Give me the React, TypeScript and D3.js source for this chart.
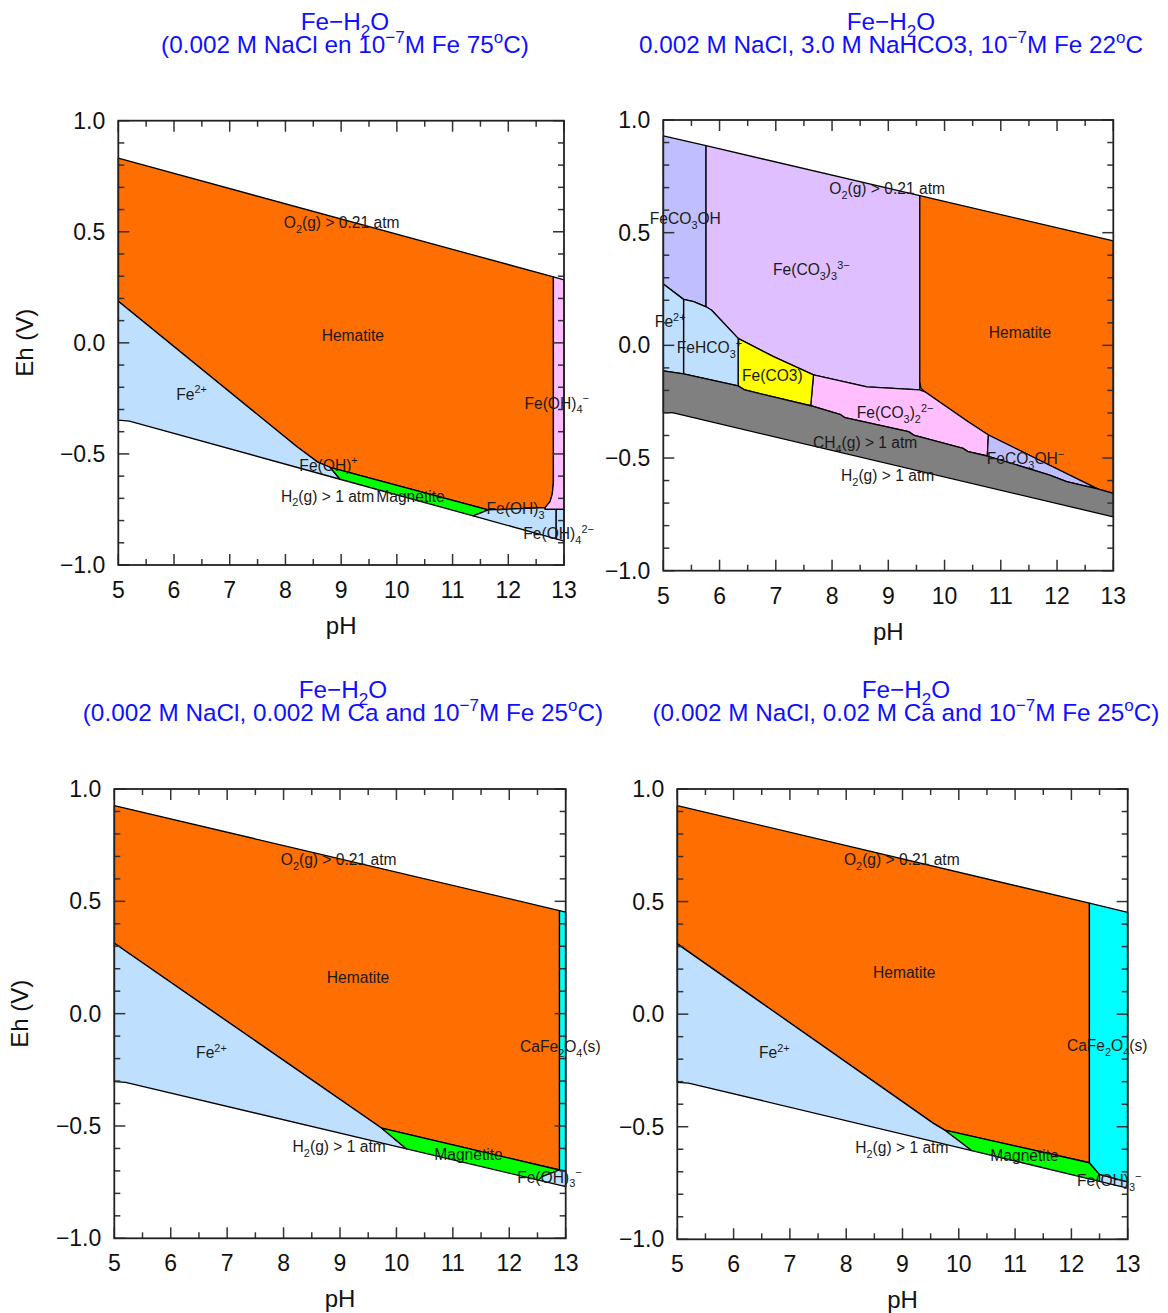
import * as d3 from "d3";

type Pt = [number, number];

// ---------- panel 1 : 0.002 M NaCl, 1e-7 M Fe, 75 C ----------
const p1Hematite: Pt[] = [[5, 0.831], [12.81, 0.297], [12.81, -0.63], [12.79, -0.68], [12.75, -0.715], [12.66, -0.742], [11.64, -0.752], [8.8, -0.56], [8.58, -0.537], [8.22, -0.47], [8.18, -0.462], [5, 0.187]];
const p1FeOH4: Pt[] = [[12.81, 0.297], [13, 0.284], [13, -0.75], [12.66, -0.75], [12.66, -0.742], [12.75, -0.715], [12.79, -0.68], [12.81, -0.63]];
const p1Fe2: Pt[] = [[5, 0.187], [8.18, -0.462], [8.22, -0.47], [8.58, -0.537], [8.8, -0.56], [8.98, -0.614], [5.2, -0.352], [5, -0.348]];
const p1Magnetite: Pt[] = [[8.8, -0.56], [11.64, -0.752], [11.37, -0.779], [8.98, -0.614]];
const p1FeOH3: Pt[] = [[11.64, -0.752], [12.66, -0.742], [12.66, -0.75], [12.86, -0.75], [12.86, -0.882], [11.37, -0.779]];
const p1FeOH4b: Pt[] = [[12.86, -0.75], [13, -0.75], [13, -0.892], [12.86, -0.882]];
const p1Labels: [string, number, number, string][] = [
  ["O_{2}(g) > 0.21 atm", 7.97, 0.54, "start"],
  ["Hematite", 9.21, 0.032, "middle"],
  ["Fe^{2+}", 6.04, -0.233, "start"],
  ["Fe(OH)_{4}^{−}", 12.29, -0.274, "start"],
  ["Fe(OH)^{+}", 8.25, -0.553, "start"],
  ["H_{2}(g) > 1 atm", 7.92, -0.692, "start"],
  ["Magnetite", 9.63, -0.692, "start"],
  ["Fe(OH)_{3}", 11.61, -0.75, "start"],
  ["Fe(OH)_{4}^{2−}", 12.27, -0.862, "start"],
];

// ---------- panel 2 : 3.0 M NaHCO3, 22 C ----------
const p2FeCO3OH: Pt[] = [[5, 0.93], [5.76, 0.886], [5.76, 0.171], [5.54, 0.194], [5.36, 0.204], [5, 0.272]];
const p2FeCO33: Pt[] = [[5.76, 0.886], [9.56, 0.664], [9.56, -0.198], [8.62, -0.184], [7.67, -0.131], [6.96, -0.05], [6.33, 0.031], [5.86, 0.156], [5.76, 0.171]];
const p2Hematite: Pt[] = [[9.56, 0.664], [13, 0.464], [13, -0.657], [12.72, -0.637], [10.78, -0.398], [10.42, -0.339], [9.65, -0.206], [9.58, -0.19], [9.56, -0.16]];
const p2FeCO32: Pt[] = [[7.67, -0.131], [8.62, -0.184], [9.56, -0.198], [9.65, -0.206], [10.42, -0.339], [10.78, -0.398], [10.76, -0.491], [10.42, -0.472], [10.33, -0.457], [9.45, -0.398], [9.36, -0.383], [8.23, -0.321], [8.14, -0.306], [7.62, -0.268]];
const p2FeCO3: Pt[] = [[6.33, 0.031], [6.96, -0.05], [7.67, -0.131], [7.62, -0.268], [6.45, -0.198], [6.33, -0.18]];
const p2FeHCO3: Pt[] = [[5.36, 0.204], [5.54, 0.194], [5.76, 0.171], [5.86, 0.156], [6.33, 0.031], [6.33, -0.18], [5.36, -0.127]];
const p2Fe2: Pt[] = [[5, 0.272], [5.36, 0.204], [5.36, -0.127], [5, -0.113]];
const p2FeCO3OHm: Pt[] = [[10.78, -0.398], [12.72, -0.637], [12.17, -0.605], [11.87, -0.576], [10.76, -0.491]];
const p2CH4: Pt[] = [[5, -0.113], [5.36, -0.127], [6.33, -0.18], [6.45, -0.198], [7.62, -0.268], [8.14, -0.306], [8.23, -0.321], [9.36, -0.383], [9.45, -0.398], [10.33, -0.457], [10.42, -0.472], [10.76, -0.491], [11.87, -0.576], [12.17, -0.605], [12.72, -0.637], [13, -0.657], [13, -0.761], [5.18, -0.3], [5, -0.297]];
const p2Labels: [string, number, number, string][] = [
  ["O_{2}(g) > 0.21 atm", 7.95, 0.694, "start"],
  ["FeCO_{3}OH", 4.76, 0.56, "start"],
  ["Fe(CO_{3})_{3}^{3−}", 6.95, 0.334, "start"],
  ["Fe^{2+}", 4.85, 0.103, "start"],
  ["FeHCO_{3}^{+}", 5.24, -0.012, "start"],
  ["Fe(CO3)", 6.4, -0.136, "start"],
  ["Hematite", 11.34, 0.055, "middle"],
  ["Fe(CO_{3})_{2}^{2−}", 8.44, -0.3, "start"],
  ["CH_{4}(g) > 1 atm", 7.66, -0.434, "start"],
  ["FeCO_{3}OH^{−}", 10.75, -0.505, "start"],
  ["H_{2}(g) > 1 atm", 8.16, -0.58, "start"],
];

// ---------- panel 3 : 0.002 M Ca, 25 C ----------
const p3Hematite: Pt[] = [[5, 0.926], [12.89, 0.459], [12.89, -0.696], [9.74, -0.51], [5, 0.313]];
const p3Fe2: Pt[] = [[5, 0.313], [9.74, -0.51], [10.18, -0.602], [5.2, -0.306], [5, -0.303]];
const p3Magnetite: Pt[] = [[9.74, -0.51], [12.89, -0.696], [12.58, -0.725], [12.52, -0.741], [10.18, -0.602]];
const p3FeOH3: Pt[] = [[12.58, -0.725], [12.89, -0.696], [13, -0.7], [13, -0.77], [12.52, -0.741]];
const p3CaFe2O4: Pt[] = [[12.89, 0.459], [13, 0.452], [13, -0.7], [12.89, -0.696]];
const p3Labels: [string, number, number, string][] = [
  ["O_{2}(g) > 0.21 atm", 7.95, 0.684, "start"],
  ["Hematite", 9.32, 0.159, "middle"],
  ["Fe^{2+}", 6.45, -0.175, "start"],
  ["CaFe_{2}O_{4}(s)", 12.19, -0.148, "start"],
  ["H_{2}(g) > 1 atm", 8.16, -0.594, "start"],
  ["Magnetite", 10.67, -0.629, "start"],
  ["Fe(OH)_{3}^{−}", 12.14, -0.73, "start"],
];

// ---------- panel 4 : 0.02 M Ca, 25 C ----------
const p4Hematite: Pt[] = [[5, 0.926], [12.32, 0.493], [12.32, -0.66], [9.75, -0.515], [9.55, -0.485], [5, 0.312]];
const p4Fe2: Pt[] = [[5, 0.312], [9.55, -0.485], [9.75, -0.515], [10.23, -0.606], [5.2, -0.306], [5, -0.303]];
const p4Magnetite: Pt[] = [[9.75, -0.515], [12.32, -0.66], [12.5, -0.712], [12.5, -0.743], [10.23, -0.606]];
const p4FeOH3: Pt[] = [[12.5, -0.712], [13, -0.745], [13, -0.773], [12.5, -0.743]];
const p4CaFe2O4: Pt[] = [[12.32, 0.493], [13, 0.452], [13, -0.745], [12.5, -0.712], [12.32, -0.66]];
const p4Labels: [string, number, number, string][] = [
  ["O_{2}(g) > 0.21 atm", 7.96, 0.685, "start"],
  ["Hematite", 9.03, 0.183, "middle"],
  ["Fe^{2+}", 6.45, -0.173, "start"],
  ["CaFe_{2}O_{4}(s)", 11.92, -0.141, "start"],
  ["H_{2}(g) > 1 atm", 8.16, -0.594, "start"],
  ["Magnetite", 10.56, -0.63, "start"],
  ["Fe(OH)_{3}^{−}", 12.1, -0.741, "start"],
];

const titles1 = ["Fe−H_{2}O", "(0.002 M NaCl en 10^{−7}M Fe 75^{o}C)"];
const titles2 = ["Fe−H_{2}O", "0.002 M NaCl, 3.0 M NaHCO3, 10^{−7}M Fe 22^{o}C"];
const titles3 = ["Fe−H_{2}O", "(0.002 M NaCl, 0.002 M Ca and 10^{−7}M Fe 25^{o}C)"];
const titles4 = ["Fe−H_{2}O", "(0.002 M NaCl, 0.02 M Ca and 10^{−7}M Fe 25^{o}C)"];

const phDomain: Pt = [5, 13];
const ehDomain: Pt = [-1, 1];

const C = {
  hem: "#ff6e00", blue: "#bfdfff", green: "#00ff00", pink: "#ffbfff",
  lav: "#bfbfff", purple: "#dfbfff", yellow: "#ffff00", gray: "#808080", cyan: "#00ffff",
};

const FONT = "'Liberation Sans', Arial, Helvetica, sans-serif";

// split "Fe_{2}O^{3-}" into plain / sub / sup pieces
function pieces(s: string) {
  const out: { t: string; k: string }[] = [];
  const re = /([_^])\{([^}]*)\}/g;
  let last = 0, m;
  while ((m = re.exec(s))) {
    if (m.index > last) out.push({ t: s.slice(last, m.index), k: "n" });
    out.push({ t: m[2], k: m[1] === "_" ? "sub" : "sup" });
    last = re.lastIndex;
  }
  if (last < s.length) out.push({ t: s.slice(last), k: "n" });
  return out;
}

function Rich({ s, x, y, size, anchor, fill }: { s: string; x: number; y: number; size: number; anchor: string; fill: string }) {
  const ps = pieces(s);
  let cur = 0;
  return (
    <text x={x} y={y} fontSize={size} textAnchor={anchor} fill={fill} fontFamily={FONT}>
      {ps.map((p, i) => {
        const target = p.k === "sub" ? size * 0.3 : p.k === "sup" ? -size * 0.4 : 0;
        const dy = target - cur;
        cur = target;
        return (
          <tspan key={i} dy={dy} fontSize={p.k === "n" ? size : size * 0.7}>{p.t}</tspan>
        );
      })}
    </text>
  );
}

type Region = { pts: Pt[]; fill: string };
type PanelProps = {
  box: { l: number; r: number; t: number; b: number };
  regions: Region[];
  labels: [string, number, number, string][];
  titles: string[];
  titleX: number;
  titleY: number;
  ehLabelX?: number;
};

function Panel({ box, regions, labels, titles, titleX, titleY, ehLabelX }: PanelProps) {
  const x = d3.scaleLinear().domain(phDomain).range([box.l, box.r]);
  const y = d3.scaleLinear().domain(ehDomain).range([box.b, box.t]);
  const line = d3.line<Pt>().x(d => x(d[0])).y(d => y(d[1]));
  const xMajor = x.ticks(8);
  const xMinor = x.ticks(16).filter(v => !Number.isInteger(v));
  const yMajor = y.ticks(4);
  const yMinor = y.ticks(20).filter(v => !yMajor.some(m => Math.abs(m - v) < 1e-9));
  const fmt = d3.format(".1f");
  const tickCol = "#333";
  const M = 11, m = 6;
  return (
    <g>
      {titles.map((t, i) => (
        <Rich key={i} s={t} x={titleX} y={titleY + i * 23} size={24.3} anchor="middle" fill="#1010ff" />
      ))}
      {regions.map((r, i) => (
        <path key={i} d={line(r.pts) + "Z"} fill={r.fill} stroke="#000" strokeWidth={1.3} strokeLinejoin="round" />
      ))}
      {labels.map((l, i) => (
        <Rich key={i} s={l[0]} x={x(l[1])} y={y(l[2]) + 5} size={15.6} anchor={l[3]} fill="#1a1a1a" />
      ))}
      <g stroke={tickCol} strokeWidth={1.5}>
        {xMajor.map(v => (
          <g key={"xM" + v}>
            <line x1={x(v)} x2={x(v)} y1={box.b} y2={box.b - M} />
            <line x1={x(v)} x2={x(v)} y1={box.t} y2={box.t + M} />
          </g>
        ))}
        {xMinor.map(v => (
          <g key={"xm" + v}>
            <line x1={x(v)} x2={x(v)} y1={box.b} y2={box.b - m} />
            <line x1={x(v)} x2={x(v)} y1={box.t} y2={box.t + m} />
          </g>
        ))}
        {yMajor.map(v => (
          <g key={"yM" + v}>
            <line x1={box.l} x2={box.l + M} y1={y(v)} y2={y(v)} />
            <line x1={box.r} x2={box.r - M} y1={y(v)} y2={y(v)} />
          </g>
        ))}
        {yMinor.map(v => (
          <g key={"ym" + v}>
            <line x1={box.l} x2={box.l + m} y1={y(v)} y2={y(v)} />
            <line x1={box.r} x2={box.r - m} y1={y(v)} y2={y(v)} />
          </g>
        ))}
      </g>
      <rect x={box.l} y={box.t} width={box.r - box.l} height={box.b - box.t} fill="none" stroke="#222" strokeWidth={1.8} />
      <g fontFamily={FONT} fontSize={23} fill="#111">
        {xMajor.map(v => (
          <text key={"xl" + v} x={x(v)} y={box.b + 33} textAnchor="middle">{v}</text>
        ))}
        {yMajor.map(v => (
          <text key={"yl" + v} x={box.l - 13} y={y(v) + 8} textAnchor="end">{fmt(v)}</text>
        ))}
      </g>
      <text x={(box.l + box.r) / 2} y={box.b + 69} textAnchor="middle" fontFamily={FONT} fontSize={24} fill="#111">pH</text>
      {ehLabelX !== undefined && (
        <text transform={`translate(${ehLabelX},${(box.t + box.b) / 2}) rotate(-90)`} textAnchor="middle" fontFamily={FONT} fontSize={24} fill="#111">Eh (V)</text>
      )}
    </g>
  );
}

export default function App() {
  return (
    <svg width={1168} height={1313} style={{ position: "absolute", left: 0, top: 0, background: "#fff" }}>
      <Panel
        box={{ l: 118.3, r: 564, t: 120.7, b: 565 }}
        regions={[
          { pts: p1Hematite, fill: C.hem },
          { pts: p1FeOH4, fill: C.pink },
          { pts: p1Fe2, fill: C.blue },
          { pts: p1Magnetite, fill: C.green },
          { pts: p1FeOH3, fill: C.blue },
          { pts: p1FeOH4b, fill: C.blue },
        ]}
        labels={p1Labels}
        titles={titles1}
        titleX={345}
        titleY={30}
        ehLabelX={33}
      />
      <Panel
        box={{ l: 663.3, r: 1113.3, t: 120, b: 570.7 }}
        regions={[
          { pts: p2FeCO3OH, fill: C.lav },
          { pts: p2FeCO33, fill: C.purple },
          { pts: p2Hematite, fill: C.hem },
          { pts: p2FeCO32, fill: C.pink },
          { pts: p2FeCO3, fill: C.yellow },
          { pts: p2FeHCO3, fill: C.blue },
          { pts: p2Fe2, fill: C.blue },
          { pts: p2FeCO3OHm, fill: C.lav },
          { pts: p2CH4, fill: C.gray },
        ]}
        labels={p2Labels}
        titles={titles2}
        titleX={891}
        titleY={30}
      />
      <Panel
        box={{ l: 114.3, r: 565.7, t: 789, b: 1238.3 }}
        regions={[
          { pts: p3Hematite, fill: C.hem },
          { pts: p3Fe2, fill: C.blue },
          { pts: p3Magnetite, fill: C.green },
          { pts: p3FeOH3, fill: C.blue },
          { pts: p3CaFe2O4, fill: C.cyan },
        ]}
        labels={p3Labels}
        titles={titles3}
        titleX={343}
        titleY={698}
        ehLabelX={28}
      />
      <Panel
        box={{ l: 677.3, r: 1127.7, t: 789, b: 1239.3 }}
        regions={[
          { pts: p4Hematite, fill: C.hem },
          { pts: p4Fe2, fill: C.blue },
          { pts: p4Magnetite, fill: C.green },
          { pts: p4FeOH3, fill: C.blue },
          { pts: p4CaFe2O4, fill: C.cyan },
        ]}
        labels={p4Labels}
        titles={titles4}
        titleX={906}
        titleY={698}
      />
    </svg>
  );
}
